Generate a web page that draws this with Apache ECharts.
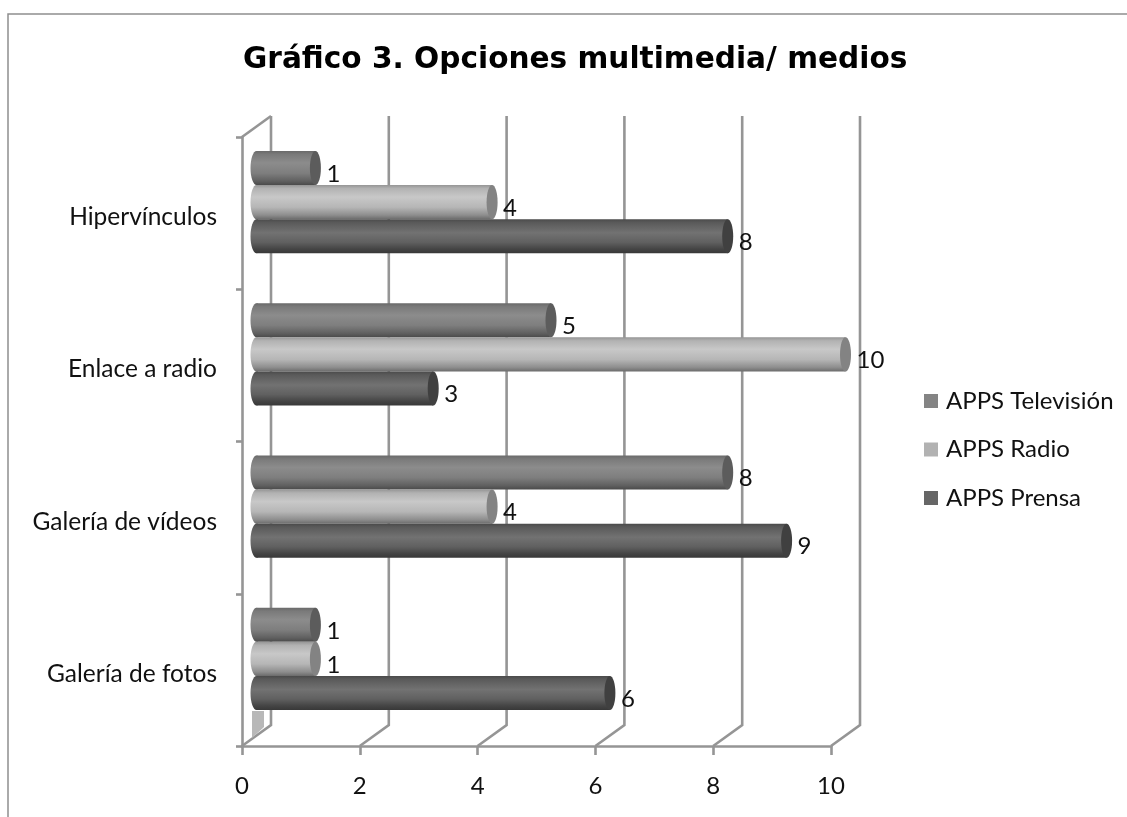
<!DOCTYPE html>
<html><head><meta charset="utf-8">
<style>html,body{margin:0;padding:0;background:#fff}#c{width:1127px;height:817px}</style>
<script src="https://cdn.jsdelivr.net/npm/echarts@6/dist/echarts.min.js"></script>
</head><body><div id="c"></div>
<script>
const categories = ['Galería de fotos','Galería de vídeos','Enlace a radio','Hipervínculos'];
const seriesNames = ['APPS Televisión','APPS Radio','APPS Prensa'];
const television = [1,8,5,1];
const radio = [1,4,10,4];
const prensa = [6,9,3,8];
const wallTicks = [0,2,4,6,8,10];

const FONT='Lato';
const TS=24;
const LINE='#959595';
const LW=2.6;
const depthX=29, depthY=-21, barDX=14.5, barDY=-11;
const BAR_RATIO=0.2237, RX=5.5;
function grad(s){return new echarts.graphic.LinearGradient(0,0,0,1,s.map((c,i)=>({offset:c[0],color:c[1]})));}
const looks=[
 {legend:'#848484',cap:'#5c5c5c',stops:[[0,'#6a6a6a'],[0.1,'#7a7a7a'],[0.35,'#8c8c8c'],[0.65,'#7e7e7e'],[0.88,'#606060'],[1,'#4a4a4a']]},
 {legend:'#b2b2b2',cap:'#838383',stops:[[0,'#969696'],[0.1,'#b2b2b2'],[0.35,'#c8c8c8'],[0.65,'#b6b6b6'],[0.88,'#8e8e8e'],[1,'#6c6c6c']]},
 {legend:'#666666',cap:'#404040',stops:[[0,'#4a4a4a'],[0.1,'#5a5a5a'],[0.4,'#727272'],[0.68,'#606060'],[0.88,'#444444'],[1,'#383838']]}
];
function barSeries(name,values,idx){
  return {type:'custom',name:name,coordinateSystem:'cartesian2d',clip:false,z:5+idx,
    itemStyle:{color:looks[idx].legend},
    encode:{x:0,y:1},
    data:values.map((v,i)=>[v,i]),
    renderItem:function(params,api){
      const v=api.value(0),cat=api.value(1);
      const band=api.size([0,1])[1];
      const h=band*BAR_RATIO;
      const p0=api.coord([0,cat]),p1=api.coord([v,cat]);
      const x0=p0[0]+barDX,x1=p1[0]+barDX;
      const cy=p0[1]+barDY+(idx-1)*h;
      const g=grad(looks[idx].stops);
      return {type:'group',children:[
        {type:'ellipse',shape:{cx:x0,cy:cy,rx:RX+0.5,ry:h/2},style:{fill:g}},
        {type:'rect',shape:{x:x0,y:cy-h/2,width:x1-x0,height:h},style:{fill:g}},
        {type:'ellipse',shape:{cx:x1,cy:cy,rx:RX,ry:h/2},style:{fill:looks[idx].cap}},
        {type:'text',z2:50,style:{text:String(v),x:x1+11,y:cy+6,fill:'#111',font:TS+'px '+FONT,textAlign:'left',textVerticalAlign:'middle'}}
      ]};
    }};
}
const wall={type:'custom',name:'wall',coordinateSystem:'cartesian2d',clip:false,silent:true,z:1,legendHoverLink:false,
  encode:{x:0},data:wallTicks.map(v=>[v]),
  renderItem:function(params,api){
    const v=api.value(0),c=params.coordSys;
    const px=api.coord([v,0])[0],b=c.y+c.height,t=c.y;
    const st={stroke:LINE,lineWidth:LW,fill:null};
    const kids=[{type:'polyline',shape:{points:[[px,b],[px+depthX,b+depthY],[px+depthX,t+depthY]]},style:st}];
    if(v===0){
      kids.push({type:'polyline',shape:{points:[[px,t],[px+depthX,t+depthY]]},style:st});
      kids.push({type:'polygon',shape:{points:[[px+10,b-35],[px+22,b-35],[px+22,b-19],[px+10,b-8]]},style:{fill:'#b8b8b8'}});
    }
    return {type:'group',children:kids};
  }};
const option={
  animation:false,backgroundColor:'#fff',
  title:{text:'Gráfico 3. Opciones multimedia/ medios',left:238,top:40,textStyle:{fontFamily:'DejaVu Sans',fontWeight:'bold',fontSize:29.6,color:'#000'}},
  legend:{orient:'vertical',left:919,top:384,itemWidth:14,itemHeight:14,itemGap:24.5,selectedMode:false,icon:'rect',
    textStyle:{fontFamily:FONT,fontSize:TS,color:'#111',padding:[0,0,0,3]},
    data:seriesNames.map((n,i)=>({name:n,itemStyle:{color:looks[i].legend}}))},
  grid:{left:242,top:137,width:589,height:609,containLabel:false},
  xAxis:{type:'value',min:0,max:10,interval:2,splitLine:{show:false},
    axisLine:{show:true,lineStyle:{color:LINE,width:LW}},
    axisTick:{show:true,length:9,lineStyle:{color:LINE,width:LW}},
    axisLabel:{margin:28,fontFamily:FONT,fontSize:TS,color:'#111'}},
  yAxis:{type:'category',data:categories,
    axisLine:{show:true,lineStyle:{color:LINE,width:LW}},
    axisTick:{show:true,length:6,alignWithLabel:false,lineStyle:{color:LINE,width:LW}},
    axisLabel:{margin:25,fontFamily:FONT,fontSize:24.5,color:'#111',verticalAlign:'top',lineHeight:8}},
  graphic:[
    {type:'polyline',silent:true,shape:{points:[[8,817],[8,14],[1127,14]]},style:{stroke:'#8e8e8e',lineWidth:1.5,fill:null}}
  ],
  series:[wall,barSeries(seriesNames[0],television,0),barSeries(seriesNames[1],radio,1),barSeries(seriesNames[2],prensa,2)]
};
const chart=echarts.init(document.getElementById('c'));
chart.setOption(option);
</script></body></html>
